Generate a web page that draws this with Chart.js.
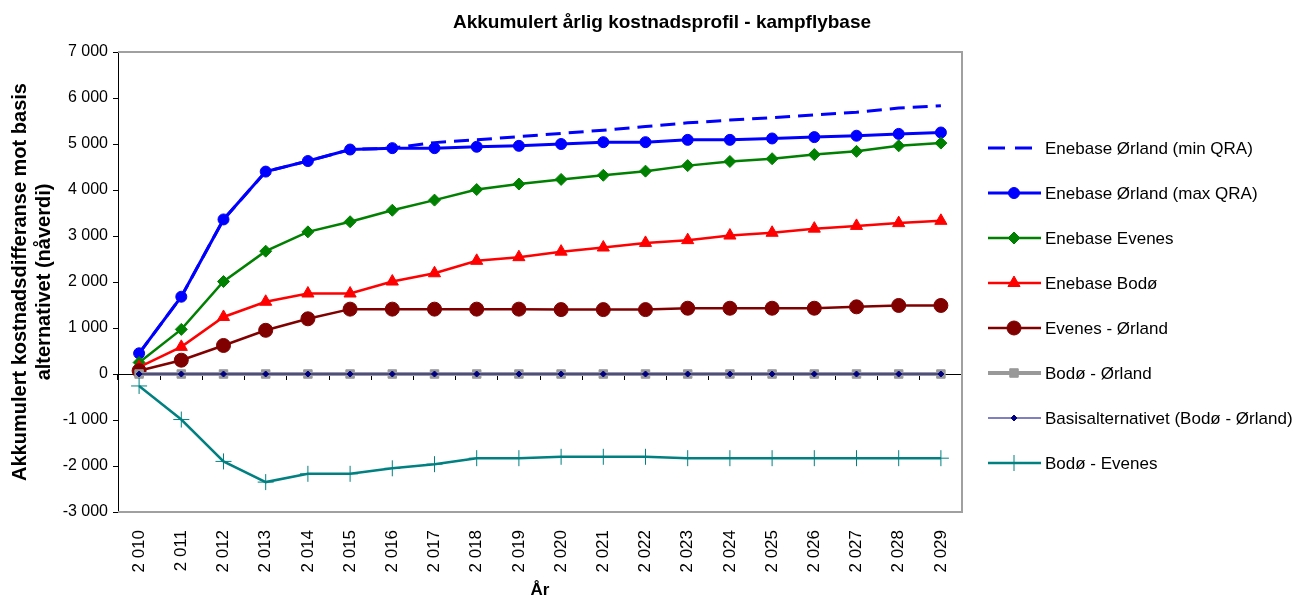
<!DOCTYPE html>
<html>
<head>
<meta charset="utf-8">
<script src="https://cdn.jsdelivr.net/npm/chart.js@4.4.1/dist/chart.umd.min.js"></script>
<style>
  body { margin: 0; background: #fff; }
</style>
</head>
<body>
<canvas id="kostnad" width="1306" height="601"></canvas>
<script>
// Årstall (kategorier)
var aar = ['2 010','2 011','2 012','2 013','2 014','2 015','2 016','2 017','2 018','2 019',
           '2 020','2 021','2 022','2 023','2 024','2 025','2 026','2 027','2 028','2 029'];

// Serier, akkumulert kostnadsdifferanse
var orlandMinQra = [450,1680,3360,4400,4630,4880,4910,5030,5090,5160,5230,5300,5380,5460,5520,5570,5630,5690,5780,5830];
var orlandMaxQra = [450,1680,3360,4400,4630,4880,4910,4910,4940,4960,5000,5040,5040,5090,5090,5120,5150,5180,5220,5250];
var enebaseEvenes = [250,970,2010,2670,3090,3310,3560,3780,4010,4130,4230,4320,4410,4530,4620,4680,4770,4840,4960,5020];
var enebaseBodo = [150,590,1240,1570,1750,1750,2010,2190,2460,2540,2660,2750,2850,2910,3010,3070,3160,3220,3280,3330];
var evenesOrland = [70,300,620,950,1200,1410,1410,1410,1410,1410,1400,1400,1400,1430,1430,1430,1430,1460,1490,1490];
var bodoOrland = [0,0,0,0,0,0,0,0,0,0,0,0,0,0,0,0,0,0,0,0];
var basis = [0,0,0,0,0,0,0,0,0,0,0,0,0,0,0,0,0,0,0,0];
var bodoEvenes = [-260,-990,-1900,-2350,-2170,-2170,-2050,-1960,-1830,-1830,-1800,-1800,-1800,-1830,-1830,-1830,-1830,-1830,-1830,-1830];

// Y-akse
var yMin = -3000, yMax = 7000, ySteg = 1000;

Chart.defaults.font.family = '"Liberation Sans", Arial, sans-serif';
Chart.defaults.color = '#000';

function tusen(v) {
  var s = String(Math.abs(v)).replace(/\B(?=(\d{3})+(?!\d))/g, ' ');
  return (v < 0 ? '-' : '') + s;
}

// Tittel
var tittelPlugin = {
  id: 'tittel',
  afterDraw: function (chart) {
    var ctx = chart.ctx;
    ctx.save();
    ctx.font = 'bold 19px "Liberation Sans", Arial';
    ctx.fillStyle = '#000';
    ctx.textAlign = 'center';
    ctx.textBaseline = 'middle';
    ctx.fillText('Akkumulert årlig kostnadsprofil - kampflybase', 662, 23);
    ctx.restore();
  }
};

// Grå ramme rundt plotteområdet
var rammePlugin = {
  id: 'ramme',
  beforeDatasetsDraw: function (chart) {
    var a = chart.chartArea, ctx = chart.ctx;
    ctx.save();
    ctx.strokeStyle = '#a0a0a0';
    ctx.lineWidth = 2;
    ctx.beginPath();
    ctx.moveTo(a.left, a.top);
    ctx.lineTo(a.right, a.top);
    ctx.lineTo(a.right, a.bottom);
    ctx.lineTo(a.left, a.bottom);
    ctx.stroke();
    ctx.restore();
  }
};

// Forklaring til høyre
var forklaringPlugin = {
  id: 'forklaring',
  afterDraw: function (chart) {
    var ctx = chart.ctx;
    var x0 = chart.chartArea.right + 26;
    chart.data.datasets.forEach(function (ds, i) {
      var y = 148 + i * 45;
      ctx.save();
      ctx.strokeStyle = ds.borderColor;
      ctx.lineWidth = ds.borderWidth;
      ctx.setLineDash(ds.borderDash ? [17, 10] : []);
      ctx.beginPath();
      ctx.moveTo(x0, y);
      ctx.lineTo(x0 + 53, y);
      ctx.stroke();
      ctx.setLineDash([]);
      if (ds.pointRadius > 0) {
        ctx.fillStyle = ds.pointBackgroundColor;
        ctx.strokeStyle = ds.pointBorderColor;
        ctx.lineWidth = ds.pointBorderWidth;
        Chart.helpers.drawPoint(ctx, {
          pointStyle: ds.pointStyle, radius: ds.pointRadius, rotation: 0,
          borderWidth: ds.pointBorderWidth
        }, x0 + 26, y);
      }
      ctx.fillStyle = '#000';
      ctx.font = '17px "Liberation Sans", Arial';
      ctx.textBaseline = 'middle';
      ctx.fillText(ds.label, x0 + 57, y + 1);
      ctx.restore();
    });
  }
};

function serie(navn, data, farge, bredde, stil, radius, ekstra) {
  var ds = {
    label: navn,
    data: data,
    borderColor: farge,
    backgroundColor: farge,
    borderWidth: bredde,
    pointStyle: stil,
    pointRadius: radius,
    pointHoverRadius: radius,
    pointBackgroundColor: farge,
    pointBorderColor: farge,
    pointBorderWidth: 1,
    tension: 0,
    fill: false
  };
  for (var k in ekstra) ds[k] = ekstra[k];
  return ds;
}

var datasett = [
  serie('Enebase Ørland (min QRA)', orlandMinQra, '#0000ff', 3, 'circle', 0, { borderDash: [15, 8] }),
  serie('Enebase Ørland (max QRA)', orlandMaxQra, '#0000ff', 3, 'circle', 5.5, {}),
  serie('Enebase Evenes', enebaseEvenes, '#008000', 2.5, 'rectRot', 6, {}),
  serie('Enebase Bodø', enebaseBodo, '#ff0000', 2.5, 'triangle', 7, {}),
  serie('Evenes - Ørland', evenesOrland, '#800000', 2.5, 'circle', 7, {}),
  serie('Bodø - Ørland', bodoOrland, '#999999', 4, 'rect', 6, {}),
  serie('Basisalternativet (Bodø - Ørland)', basis, '#000080', 1, 'rectRot', 3, {}),
  serie('Bodø - Evenes', bodoEvenes, '#008080', 2.5, 'cross', 8, {})
];
// senere serier tegnes øverst, som i Excel
datasett.forEach(function (ds, i) { ds.order = datasett.length - i; });

new Chart(document.getElementById('kostnad').getContext('2d'), {
  type: 'line',
  data: { labels: aar, datasets: datasett },
  options: {
    responsive: false,
    animation: false,
    layout: { padding: { top: 52, right: 344, bottom: 0, left: 0 } },
    plugins: {
      legend: { display: false },
      title: { display: false },
      tooltip: { enabled: false }
    },
    scales: {
      x: {
        type: 'category',
        offset: true,
        afterFit: function (s) { s.height = 89; },
        grid: { display: false },
        border: { display: false },
        ticks: {
          autoSkip: false,
          minRotation: 90,
          maxRotation: 90,
          padding: 10,
          font: { size: 17 }
        },
        title: {
          display: true,
          text: 'År',
          font: { size: 17, weight: 'bold' },
          padding: { top: 0, bottom: 0 }
        }
      },
      x2: {
        type: 'category',
        labels: aar,
        offset: true,
        position: { y: 0 },
        grid: { offset: true, drawOnChartArea: false, drawTicks: true, tickLength: 5, color: '#000' },
        border: { display: true, color: '#000', width: 1 },
        ticks: { display: false }
      },
      y: {
        min: yMin,
        max: yMax,
        afterFit: function (s) { s.width = 118; },
        grid: { drawOnChartArea: false, drawTicks: true, tickLength: 5, color: '#000' },
        border: { display: true, color: '#000', width: 1 },
        ticks: {
          stepSize: ySteg,
          padding: 5,
          font: { size: 16 },
          callback: function (v) { return tusen(v); }
        },
        title: {
          display: true,
          text: ['Akkumulert kostnadsdifferanse mot basis', 'alternativet (nåverdi)'],
          font: { size: 20, weight: 'bold' },
          padding: { top: 8, bottom: 0 }
        }
      }
    }
  },
  plugins: [rammePlugin, tittelPlugin, forklaringPlugin]
});
</script>
</body>
</html>
